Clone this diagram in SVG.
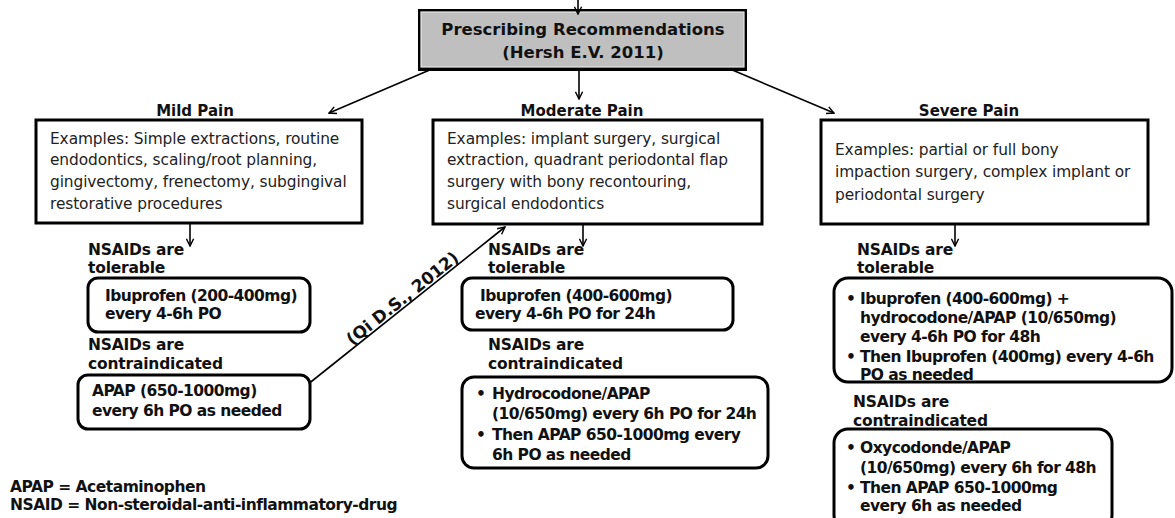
<svg xmlns="http://www.w3.org/2000/svg" width="1175" height="518" viewBox="0 0 1175 518">
<defs>
<marker id="arr" viewBox="0 0 10 10" refX="9" refY="5" markerWidth="9" markerHeight="9" orient="auto" markerUnits="userSpaceOnUse">
<path d="M1,1 L9,5 L1,9" fill="none" stroke="#000" stroke-width="1.6"/>
</marker>
</defs>
<style>
text{font-family:"DejaVu Sans",Verdana,sans-serif;fill:#111}
.h{font-size:15px;font-weight:bold;text-anchor:middle}
.ex{font-size:15.4px;fill:#222;letter-spacing:-0.1px}
.b{font-size:15.5px;font-weight:bold;letter-spacing:-0.55px}
.lbl{font-size:15.5px;font-weight:bold;letter-spacing:-0.2px}
.leg{font-size:15.5px;font-weight:bold;letter-spacing:-0.5px}
.box{fill:#fff;stroke:#000;stroke-width:3}
.rbox{fill:#fff;stroke:#000;stroke-width:3}
.c{stroke:#000;stroke-width:1.6;fill:none}
</style>
<rect width="1175" height="518" fill="#fff"/>

<g id="title">
<rect x="418" y="9" width="329" height="62" fill="#000"/>
<rect x="421" y="12" width="323" height="55" fill="#bfbfbf" stroke="#e8e8e8" stroke-width="1.2"/>
<text class="h" x="583" y="35" style="font-size:16.5px">Prescribing Recommendations</text>
<text class="h" x="583" y="58" style="font-size:16.5px">(Hersh E.V. 2011)</text>
</g>

<g id="connectors">
<path class="c" d="M578,0 L578,14" marker-end="url(#arr)"/>
<path class="c" d="M432,69 L329,113" marker-end="url(#arr)"/>
<path class="c" d="M579,69 L579,99" marker-end="url(#arr)"/>
<path class="c" d="M730,69 L834,113" marker-end="url(#arr)"/>
<path class="c" d="M190,209 L190,246" marker-end="url(#arr)"/>
<path class="c" d="M583,211 L583,246" marker-end="url(#arr)"/>
<path class="c" d="M955,211 L955,246" marker-end="url(#arr)"/>
<path class="c" d="M302,389 L505,227" marker-end="url(#arr)"/>
<text class="lbl" transform="translate(406,303) rotate(-38.6)" text-anchor="middle" style="font-size:17px">(Qi D.S., 2012)</text>
</g>

<g id="mild">
<text class="h" x="195" y="116">Mild Pain</text>
<rect class="box" x="36" y="120" width="326" height="103"/>
<text class="ex" x="50" y="144">Examples: Simple extractions, routine</text>
<text class="ex" x="50" y="165">endodontics, scaling/root planning,</text>
<text class="ex" x="50" y="187">gingivectomy, frenectomy, subgingival</text>
<text class="ex" x="50" y="209">restorative procedures</text>
</g>

<g id="mild-tolerable">
<text class="lbl" x="88" y="255">NSAIDs are</text>
<text class="lbl" x="88" y="273">tolerable</text>
<rect class="rbox" x="88" y="278" width="222" height="54" rx="10"/>
<text class="b" x="105" y="301">Ibuprofen (200-400mg)</text>
<text class="b" x="105" y="319">every 4-6h PO</text>
</g>

<g id="mild-contra">
<text class="lbl" x="88" y="350">NSAIDs are</text>
<text class="lbl" x="88" y="369">contraindicated</text>
<rect class="rbox" x="78" y="375" width="232" height="54" rx="10"/>
<text class="b" x="92" y="396">APAP (650-1000mg)</text>
<text class="b" x="92" y="416">every 6h PO as needed</text>
</g>

<g id="moderate">
<text class="h" x="582" y="116">Moderate Pain</text>
<rect class="box" x="433" y="120" width="329" height="104"/>
<text class="ex" x="447" y="144">Examples: implant surgery, surgical</text>
<text class="ex" x="447" y="165">extraction, quadrant periodontal flap</text>
<text class="ex" x="447" y="187">surgery with bony recontouring,</text>
<text class="ex" x="447" y="209">surgical endodontics</text>
</g>

<g id="moderate-tolerable">
<text class="lbl" x="488" y="255">NSAIDs are</text>
<text class="lbl" x="488" y="273">tolerable</text>
<rect class="rbox" x="462" y="278" width="271" height="52" rx="10"/>
<text class="b" x="480" y="301">Ibuprofen (400-600mg)</text>
<text class="b" x="475" y="319">every 4-6h PO for 24h</text>
</g>

<g id="moderate-contra">
<text class="lbl" x="488" y="350">NSAIDs are</text>
<text class="lbl" x="488" y="369">contraindicated</text>
<rect class="rbox" x="462" y="377" width="306" height="91" rx="12"/>
<text class="b" x="476" y="399">•</text>
<text class="b" x="492" y="399">Hydrocodone/APAP</text>
<text class="b" x="492" y="419">(10/650mg) every 6h PO for 24h</text>
<text class="b" x="476" y="440">•</text>
<text class="b" x="492" y="440">Then APAP 650-1000mg every</text>
<text class="b" x="492" y="460">6h PO as needed</text>
</g>

<g id="severe">
<text class="h" x="969" y="116">Severe Pain</text>
<rect class="box" x="821" y="120" width="327" height="104"/>
<text class="ex" x="835" y="155">Examples: partial or full bony</text>
<text class="ex" x="835" y="177">impaction surgery, complex implant or</text>
<text class="ex" x="835" y="200">periodontal surgery</text>
</g>

<g id="severe-tolerable">
<text class="lbl" x="857" y="255">NSAIDs are</text>
<text class="lbl" x="857" y="273">tolerable</text>
<rect class="rbox" x="834" y="278" width="338" height="104" rx="14"/>
<text class="b" x="846" y="304">•</text>
<text class="b" x="860" y="304">Ibuprofen (400-600mg) +</text>
<text class="b" x="860" y="323">hydrocodone/APAP (10/650mg)</text>
<text class="b" x="860" y="342">every 4-6h PO for 48h</text>
<text class="b" x="846" y="362">•</text>
<text class="b" x="860" y="362">Then Ibuprofen (400mg) every 4-6h</text>
<text class="b" x="860" y="380">PO as needed</text>
</g>

<g id="severe-contra">
<text class="lbl" x="853" y="407">NSAIDs are</text>
<text class="lbl" x="853" y="426">contraindicated</text>
<rect class="rbox" x="834" y="429" width="278" height="100" rx="14"/>
<text class="b" x="846" y="453">•</text>
<text class="b" x="860" y="453">Oxycodonde/APAP</text>
<text class="b" x="860" y="473">(10/650mg) every 6h for 48h</text>
<text class="b" x="846" y="493">•</text>
<text class="b" x="860" y="493">Then APAP 650-1000mg</text>
<text class="b" x="860" y="511">every 6h as needed</text>
</g>

<g id="legend">
<text class="leg" x="10" y="492">APAP = Acetaminophen</text>
<text class="leg" x="10" y="510">NSAID = Non-steroidal-anti-inflammatory-drug</text>
</g>
</svg>
